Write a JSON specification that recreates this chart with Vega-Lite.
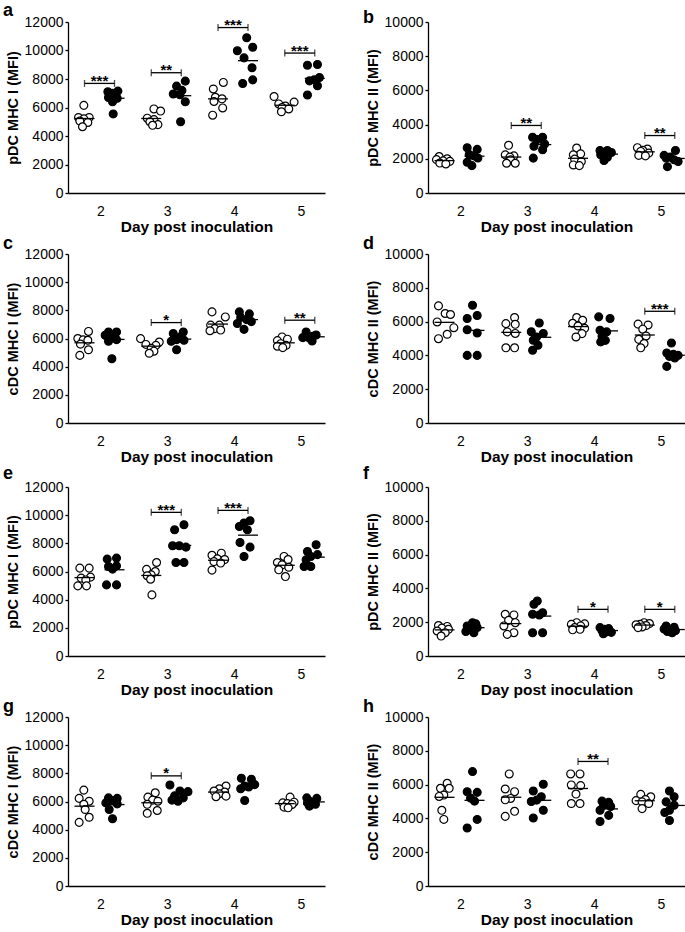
{
"$schema": "https://vega.github.io/schema/vega-lite/v6.json",
"background": "white",
"padding": {"left": 3, "top": 2, "right": 0, "bottom": 0},
"config": {
  "font": "Liberation Sans",
  "view": {"stroke": null},
  "axis": {"grid": false, "domainColor": "black", "domainWidth": 1.3, "tickColor": "black", "tickWidth": 1.3, "labelColor": "black", "titleColor": "black", "labelFontSize": 14, "titleFontWeight": "bold", "labelFont": "Liberation Sans", "titleFont": "Liberation Sans", "labelOverlap": false},
  "axisX": {"ticks": false, "labelPadding": 11, "titleFontSize": 15.5, "titlePadding": 1, "labelAngle": 0},
  "axisY": {"tickSize": 3, "labelPadding": 2, "titleFontSize": 14.5, "titlePadding": 4},
  "title": {"anchor": "start", "frame": "group", "fontSize": 18, "fontWeight": "bold", "color": "black", "dx": -65, "offset": -8, "font": "Liberation Sans"}
},
"datasets": {"all": [
{"p":"a","d":2,"g":"o","v":6150,"dx":-0.25},{"p":"a","d":2,"g":"o","v":5300,"dx":-0.33},{"p":"a","d":2,"g":"o","v":5300,"dx":-0.17},{"p":"a","d":2,"g":"o","v":5200,"dx":-0.25},{"p":"a","d":2,"g":"o","v":5050,"dx":-0.31},{"p":"a","d":2,"g":"o","v":4950,"dx":-0.19},{"p":"a","d":2,"g":"o","v":4650,"dx":-0.27},
{"p":"a","d":2,"g":"f","v":7100,"dx":0.11},{"p":"a","d":2,"g":"f","v":7150,"dx":0.26},{"p":"a","d":2,"g":"f","v":7000,"dx":0.18},{"p":"a","d":2,"g":"f","v":6700,"dx":0.12},{"p":"a","d":2,"g":"f","v":6650,"dx":0.25},{"p":"a","d":2,"g":"f","v":6400,"dx":0.18},{"p":"a","d":2,"g":"f","v":5550,"dx":0.19},
{"p":"a","d":3,"g":"o","v":5900,"dx":-0.2},{"p":"a","d":3,"g":"o","v":5750,"dx":-0.1},{"p":"a","d":3,"g":"o","v":5250,"dx":-0.3},{"p":"a","d":3,"g":"o","v":5150,"dx":-0.2},{"p":"a","d":3,"g":"o","v":5000,"dx":-0.26},{"p":"a","d":3,"g":"o","v":4800,"dx":-0.14},{"p":"a","d":3,"g":"o","v":4750,"dx":-0.22},
{"p":"a","d":3,"g":"f","v":7850,"dx":0.27},{"p":"a","d":3,"g":"f","v":7500,"dx":0.14},{"p":"a","d":3,"g":"f","v":7200,"dx":0.22},{"p":"a","d":3,"g":"f","v":6950,"dx":0.09},{"p":"a","d":3,"g":"f","v":6900,"dx":0.19},{"p":"a","d":3,"g":"f","v":6400,"dx":0.27},{"p":"a","d":3,"g":"f","v":5000,"dx":0.2},
{"p":"a","d":4,"g":"o","v":7760,"dx":-0.16},{"p":"a","d":4,"g":"o","v":7300,"dx":-0.31},{"p":"a","d":4,"g":"o","v":6720,"dx":-0.28},{"p":"a","d":4,"g":"o","v":6610,"dx":-0.18},{"p":"a","d":4,"g":"o","v":6420,"dx":-0.3},{"p":"a","d":4,"g":"o","v":5970,"dx":-0.17},{"p":"a","d":4,"g":"o","v":5460,"dx":-0.32},
{"p":"a","d":4,"g":"f","v":10900,"dx":0.19},{"p":"a","d":4,"g":"f","v":10230,"dx":0.28},{"p":"a","d":4,"g":"f","v":9980,"dx":0.05},{"p":"a","d":4,"g":"f","v":9480,"dx":0.15},{"p":"a","d":4,"g":"f","v":8790,"dx":0.27},{"p":"a","d":4,"g":"f","v":7940,"dx":0.28},{"p":"a","d":4,"g":"f","v":7690,"dx":0.13},
{"p":"a","d":5,"g":"o","v":6770,"dx":-0.4},{"p":"a","d":5,"g":"o","v":6380,"dx":-0.1},{"p":"a","d":5,"g":"o","v":6250,"dx":-0.33},{"p":"a","d":5,"g":"o","v":6100,"dx":-0.23},{"p":"a","d":5,"g":"o","v":6000,"dx":-0.28},{"p":"a","d":5,"g":"o","v":5900,"dx":-0.18},{"p":"a","d":5,"g":"o","v":5700,"dx":-0.29},
{"p":"a","d":5,"g":"f","v":9020,"dx":0.25},{"p":"a","d":5,"g":"f","v":8970,"dx":0.1},{"p":"a","d":5,"g":"f","v":8100,"dx":0.28},{"p":"a","d":5,"g":"f","v":7940,"dx":0.2},{"p":"a","d":5,"g":"f","v":7870,"dx":0.13},{"p":"a","d":5,"g":"f","v":7530,"dx":0.25},{"p":"a","d":5,"g":"f","v":6880,"dx":0.1},
{"p":"b","d":2,"g":"o","v":2130,"dx":-0.32},{"p":"b","d":2,"g":"o","v":2000,"dx":-0.2},{"p":"b","d":2,"g":"o","v":1950,"dx":-0.36},{"p":"b","d":2,"g":"o","v":1880,"dx":-0.26},{"p":"b","d":2,"g":"o","v":1850,"dx":-0.16},{"p":"b","d":2,"g":"o","v":1750,"dx":-0.31},{"p":"b","d":2,"g":"o","v":1700,"dx":-0.22},
{"p":"b","d":2,"g":"f","v":2650,"dx":0.1},{"p":"b","d":2,"g":"f","v":2550,"dx":0.25},{"p":"b","d":2,"g":"f","v":2250,"dx":0.13},{"p":"b","d":2,"g":"f","v":2170,"dx":0.2},{"p":"b","d":2,"g":"f","v":2050,"dx":0.26},{"p":"b","d":2,"g":"f","v":1800,"dx":0.1},{"p":"b","d":2,"g":"f","v":1600,"dx":0.17},
{"p":"b","d":3,"g":"o","v":2790,"dx":-0.28},{"p":"b","d":3,"g":"o","v":2230,"dx":-0.33},{"p":"b","d":3,"g":"o","v":2170,"dx":-0.2},{"p":"b","d":3,"g":"o","v":2100,"dx":-0.26},{"p":"b","d":3,"g":"o","v":1940,"dx":-0.25},{"p":"b","d":3,"g":"o","v":1740,"dx":-0.31},{"p":"b","d":3,"g":"o","v":1740,"dx":-0.18},
{"p":"b","d":3,"g":"f","v":3260,"dx":0.08},{"p":"b","d":3,"g":"f","v":3260,"dx":0.23},{"p":"b","d":3,"g":"f","v":3120,"dx":0.15},{"p":"b","d":3,"g":"f","v":2870,"dx":0.26},{"p":"b","d":3,"g":"f","v":2730,"dx":0.1},{"p":"b","d":3,"g":"f","v":2530,"dx":0.23},{"p":"b","d":3,"g":"f","v":2040,"dx":0.09},
{"p":"b","d":4,"g":"o","v":2630,"dx":-0.26},{"p":"b","d":4,"g":"o","v":2290,"dx":-0.2},{"p":"b","d":4,"g":"o","v":2230,"dx":-0.31},{"p":"b","d":4,"g":"o","v":1980,"dx":-0.29},{"p":"b","d":4,"g":"o","v":1840,"dx":-0.19},{"p":"b","d":4,"g":"o","v":1640,"dx":-0.31},{"p":"b","d":4,"g":"o","v":1600,"dx":-0.22},
{"p":"b","d":4,"g":"f","v":2490,"dx":0.09},{"p":"b","d":4,"g":"f","v":2490,"dx":0.2},{"p":"b","d":4,"g":"f","v":2370,"dx":0.26},{"p":"b","d":4,"g":"f","v":2330,"dx":0.15},{"p":"b","d":4,"g":"f","v":2230,"dx":0.1},{"p":"b","d":4,"g":"f","v":2090,"dx":0.2},{"p":"b","d":4,"g":"f","v":1900,"dx":0.15},
{"p":"b","d":5,"g":"o","v":2650,"dx":-0.35},{"p":"b","d":5,"g":"o","v":2570,"dx":-0.2},{"p":"b","d":5,"g":"o","v":2500,"dx":-0.27},{"p":"b","d":5,"g":"o","v":2430,"dx":-0.3},{"p":"b","d":5,"g":"o","v":2330,"dx":-0.18},{"p":"b","d":5,"g":"o","v":2200,"dx":-0.33},{"p":"b","d":5,"g":"o","v":2170,"dx":-0.23},
{"p":"b","d":5,"g":"f","v":2490,"dx":0.22},{"p":"b","d":5,"g":"f","v":2200,"dx":0.05},{"p":"b","d":5,"g":"f","v":2100,"dx":0.14},{"p":"b","d":5,"g":"f","v":2040,"dx":0.08},{"p":"b","d":5,"g":"f","v":1940,"dx":0.2},{"p":"b","d":5,"g":"f","v":1840,"dx":0.26},{"p":"b","d":5,"g":"f","v":1540,"dx":0.1},
{"p":"c","d":2,"g":"o","v":6500,"dx":-0.18},{"p":"c","d":2,"g":"o","v":6000,"dx":-0.34},{"p":"c","d":2,"g":"o","v":5900,"dx":-0.26},{"p":"c","d":2,"g":"o","v":5870,"dx":-0.19},{"p":"c","d":2,"g":"o","v":5600,"dx":-0.3},{"p":"c","d":2,"g":"o","v":5200,"dx":-0.18},{"p":"c","d":2,"g":"o","v":4800,"dx":-0.31},
{"p":"c","d":2,"g":"f","v":6460,"dx":0.12},{"p":"c","d":2,"g":"f","v":6460,"dx":0.24},{"p":"c","d":2,"g":"f","v":6230,"dx":0.07},{"p":"c","d":2,"g":"f","v":6110,"dx":0.17},{"p":"c","d":2,"g":"f","v":5920,"dx":0.24},{"p":"c","d":2,"g":"f","v":5800,"dx":0.12},{"p":"c","d":2,"g":"f","v":4560,"dx":0.17},
{"p":"c","d":3,"g":"o","v":5990,"dx":-0.4},{"p":"c","d":3,"g":"o","v":5750,"dx":-0.12},{"p":"c","d":3,"g":"o","v":5580,"dx":-0.32},{"p":"c","d":3,"g":"o","v":5510,"dx":-0.17},{"p":"c","d":3,"g":"o","v":5300,"dx":-0.24},{"p":"c","d":3,"g":"o","v":5100,"dx":-0.2},{"p":"c","d":3,"g":"o","v":4950,"dx":-0.27},
{"p":"c","d":3,"g":"f","v":6460,"dx":0.24},{"p":"c","d":3,"g":"f","v":6350,"dx":0.09},{"p":"c","d":3,"g":"f","v":6100,"dx":0.19},{"p":"c","d":3,"g":"f","v":5920,"dx":0.14},{"p":"c","d":3,"g":"f","v":5870,"dx":0.25},{"p":"c","d":3,"g":"f","v":5800,"dx":0.06},{"p":"c","d":3,"g":"f","v":5200,"dx":0.14},
{"p":"c","d":4,"g":"o","v":7890,"dx":-0.33},{"p":"c","d":4,"g":"o","v":7530,"dx":-0.13},{"p":"c","d":4,"g":"o","v":6950,"dx":-0.35},{"p":"c","d":4,"g":"o","v":6950,"dx":-0.22},{"p":"c","d":4,"g":"o","v":6700,"dx":-0.29},{"p":"c","d":4,"g":"o","v":6600,"dx":-0.2},{"p":"c","d":4,"g":"o","v":6550,"dx":-0.36},
{"p":"c","d":4,"g":"f","v":7890,"dx":0.08},{"p":"c","d":4,"g":"f","v":7750,"dx":0.23},{"p":"c","d":4,"g":"f","v":7500,"dx":0.1},{"p":"c","d":4,"g":"f","v":7340,"dx":0.19},{"p":"c","d":4,"g":"f","v":7200,"dx":0.26},{"p":"c","d":4,"g":"f","v":7060,"dx":0.05},{"p":"c","d":4,"g":"f","v":6650,"dx":0.15},
{"p":"c","d":5,"g":"o","v":6110,"dx":-0.28},{"p":"c","d":5,"g":"o","v":5950,"dx":-0.2},{"p":"c","d":5,"g":"o","v":5850,"dx":-0.35},{"p":"c","d":5,"g":"o","v":5630,"dx":-0.3},{"p":"c","d":5,"g":"o","v":5510,"dx":-0.22},{"p":"c","d":5,"g":"o","v":5450,"dx":-0.35},{"p":"c","d":5,"g":"o","v":5350,"dx":-0.27},
{"p":"c","d":5,"g":"f","v":6460,"dx":0.08},{"p":"c","d":5,"g":"f","v":6250,"dx":0.23},{"p":"c","d":5,"g":"f","v":6160,"dx":0.18},{"p":"c","d":5,"g":"f","v":6110,"dx":0.1},{"p":"c","d":5,"g":"f","v":6060,"dx":0.03},{"p":"c","d":5,"g":"f","v":5990,"dx":0.14},{"p":"c","d":5,"g":"f","v":5820,"dx":0.17},
{"p":"d","d":2,"g":"o","v":6930,"dx":-0.33},{"p":"d","d":2,"g":"o","v":6480,"dx":-0.23},{"p":"d","d":2,"g":"o","v":6420,"dx":-0.15},{"p":"d","d":2,"g":"o","v":5980,"dx":-0.35},{"p":"d","d":2,"g":"o","v":5640,"dx":-0.1},{"p":"d","d":2,"g":"o","v":5250,"dx":-0.2},{"p":"d","d":2,"g":"o","v":4990,"dx":-0.33},
{"p":"d","d":2,"g":"f","v":6970,"dx":0.18},{"p":"d","d":2,"g":"f","v":6360,"dx":0.25},{"p":"d","d":2,"g":"f","v":6180,"dx":0.1},{"p":"d","d":2,"g":"f","v":5520,"dx":0.1},{"p":"d","d":2,"g":"f","v":5330,"dx":0.25},{"p":"d","d":2,"g":"f","v":4000,"dx":0.1},{"p":"d","d":2,"g":"f","v":4000,"dx":0.25},
{"p":"d","d":3,"g":"o","v":6240,"dx":-0.19},{"p":"d","d":3,"g":"o","v":5880,"dx":-0.32},{"p":"d","d":3,"g":"o","v":5840,"dx":-0.18},{"p":"d","d":3,"g":"o","v":5390,"dx":-0.3},{"p":"d","d":3,"g":"o","v":5300,"dx":-0.18},{"p":"d","d":3,"g":"o","v":4450,"dx":-0.32},{"p":"d","d":3,"g":"o","v":4450,"dx":-0.19},
{"p":"d","d":3,"g":"f","v":5920,"dx":0.18},{"p":"d","d":3,"g":"f","v":5400,"dx":0.06},{"p":"d","d":3,"g":"f","v":5300,"dx":0.24},{"p":"d","d":3,"g":"f","v":5090,"dx":0.14},{"p":"d","d":3,"g":"f","v":4900,"dx":0.09},{"p":"d","d":3,"g":"f","v":4600,"dx":0.16},{"p":"d","d":3,"g":"f","v":4300,"dx":0.08},
{"p":"d","d":4,"g":"o","v":6240,"dx":-0.26},{"p":"d","d":4,"g":"o","v":6080,"dx":-0.17},{"p":"d","d":4,"g":"o","v":5900,"dx":-0.32},{"p":"d","d":4,"g":"o","v":5740,"dx":-0.24},{"p":"d","d":4,"g":"o","v":5600,"dx":-0.14},{"p":"d","d":4,"g":"o","v":5290,"dx":-0.18},{"p":"d","d":4,"g":"o","v":5090,"dx":-0.27},
{"p":"d","d":4,"g":"f","v":6280,"dx":0.07},{"p":"d","d":4,"g":"f","v":6180,"dx":0.24},{"p":"d","d":4,"g":"f","v":5490,"dx":0.09},{"p":"d","d":4,"g":"f","v":5390,"dx":0.19},{"p":"d","d":4,"g":"f","v":5130,"dx":0.12},{"p":"d","d":4,"g":"f","v":4890,"dx":0.17},{"p":"d","d":4,"g":"f","v":4800,"dx":0.1},
{"p":"d","d":5,"g":"o","v":5850,"dx":-0.34},{"p":"d","d":5,"g":"o","v":5800,"dx":-0.19},{"p":"d","d":5,"g":"o","v":5550,"dx":-0.27},{"p":"d","d":5,"g":"o","v":5150,"dx":-0.22},{"p":"d","d":5,"g":"o","v":4950,"dx":-0.33},{"p":"d","d":5,"g":"o","v":4700,"dx":-0.25},{"p":"d","d":5,"g":"o","v":4450,"dx":-0.3},
{"p":"d","d":5,"g":"f","v":4730,"dx":0.16},{"p":"d","d":5,"g":"f","v":4140,"dx":0.09},{"p":"d","d":5,"g":"f","v":4060,"dx":0.19},{"p":"d","d":5,"g":"f","v":4000,"dx":0.26},{"p":"d","d":5,"g":"f","v":3940,"dx":0.13},{"p":"d","d":5,"g":"f","v":3850,"dx":0.21},{"p":"d","d":5,"g":"f","v":3350,"dx":0.09},
{"p":"e","d":2,"g":"o","v":6240,"dx":-0.31},{"p":"e","d":2,"g":"o","v":6240,"dx":-0.17},{"p":"e","d":2,"g":"o","v":5600,"dx":-0.15},{"p":"e","d":2,"g":"o","v":5530,"dx":-0.29},{"p":"e","d":2,"g":"o","v":5400,"dx":-0.22},{"p":"e","d":2,"g":"o","v":4980,"dx":-0.34},{"p":"e","d":2,"g":"o","v":4980,"dx":-0.21},
{"p":"e","d":2,"g":"f","v":6950,"dx":0.24},{"p":"e","d":2,"g":"f","v":6880,"dx":0.1},{"p":"e","d":2,"g":"f","v":6400,"dx":0.24},{"p":"e","d":2,"g":"f","v":6360,"dx":0.12},{"p":"e","d":2,"g":"f","v":6170,"dx":0.18},{"p":"e","d":2,"g":"f","v":5050,"dx":0.09},{"p":"e","d":2,"g":"f","v":5050,"dx":0.24},
{"p":"e","d":3,"g":"o","v":6640,"dx":-0.16},{"p":"e","d":3,"g":"o","v":6150,"dx":-0.31},{"p":"e","d":3,"g":"o","v":6000,"dx":-0.18},{"p":"e","d":3,"g":"o","v":5760,"dx":-0.24},{"p":"e","d":3,"g":"o","v":5700,"dx":-0.3},{"p":"e","d":3,"g":"o","v":5450,"dx":-0.25},{"p":"e","d":3,"g":"o","v":4340,"dx":-0.23},
{"p":"e","d":3,"g":"f","v":9320,"dx":0.25},{"p":"e","d":3,"g":"f","v":8960,"dx":0.11},{"p":"e","d":3,"g":"f","v":7830,"dx":0.08},{"p":"e","d":3,"g":"f","v":7830,"dx":0.18},{"p":"e","d":3,"g":"f","v":7730,"dx":0.28},{"p":"e","d":3,"g":"f","v":6640,"dx":0.13},{"p":"e","d":3,"g":"f","v":6640,"dx":0.25},
{"p":"e","d":4,"g":"o","v":7300,"dx":-0.19},{"p":"e","d":4,"g":"o","v":7150,"dx":-0.33},{"p":"e","d":4,"g":"o","v":6900,"dx":-0.25},{"p":"e","d":4,"g":"o","v":6850,"dx":-0.14},{"p":"e","d":4,"g":"o","v":6700,"dx":-0.3},{"p":"e","d":4,"g":"o","v":6600,"dx":-0.2},{"p":"e","d":4,"g":"o","v":6100,"dx":-0.33},
{"p":"e","d":4,"g":"f","v":9600,"dx":0.24},{"p":"e","d":4,"g":"f","v":9440,"dx":0.15},{"p":"e","d":4,"g":"f","v":9200,"dx":0.08},{"p":"e","d":4,"g":"f","v":8960,"dx":0.2},{"p":"e","d":4,"g":"f","v":8060,"dx":0.09},{"p":"e","d":4,"g":"f","v":7730,"dx":0.24},{"p":"e","d":4,"g":"f","v":7070,"dx":0.15},
{"p":"e","d":5,"g":"o","v":7070,"dx":-0.25},{"p":"e","d":5,"g":"o","v":6850,"dx":-0.19},{"p":"e","d":5,"g":"o","v":6640,"dx":-0.35},{"p":"e","d":5,"g":"o","v":6470,"dx":-0.28},{"p":"e","d":5,"g":"o","v":6300,"dx":-0.18},{"p":"e","d":5,"g":"o","v":6120,"dx":-0.33},{"p":"e","d":5,"g":"o","v":5640,"dx":-0.23},
{"p":"e","d":5,"g":"f","v":7900,"dx":0.23},{"p":"e","d":5,"g":"f","v":7420,"dx":0.1},{"p":"e","d":5,"g":"f","v":7200,"dx":0.25},{"p":"e","d":5,"g":"f","v":7070,"dx":0.15},{"p":"e","d":5,"g":"f","v":6830,"dx":0.08},{"p":"e","d":5,"g":"f","v":6360,"dx":0.05},{"p":"e","d":5,"g":"f","v":6360,"dx":0.15},
{"p":"f","d":2,"g":"o","v":1800,"dx":-0.33},{"p":"f","d":2,"g":"o","v":1750,"dx":-0.2},{"p":"f","d":2,"g":"o","v":1650,"dx":-0.28},{"p":"f","d":2,"g":"o","v":1580,"dx":-0.18},{"p":"f","d":2,"g":"o","v":1480,"dx":-0.35},{"p":"f","d":2,"g":"o","v":1380,"dx":-0.23},{"p":"f","d":2,"g":"o","v":1180,"dx":-0.29},
{"p":"f","d":2,"g":"f","v":1970,"dx":0.18},{"p":"f","d":2,"g":"f","v":1900,"dx":0.23},{"p":"f","d":2,"g":"f","v":1780,"dx":0.1},{"p":"f","d":2,"g":"f","v":1680,"dx":0.25},{"p":"f","d":2,"g":"f","v":1580,"dx":0.15},{"p":"f","d":2,"g":"f","v":1450,"dx":0.08},{"p":"f","d":2,"g":"f","v":1380,"dx":0.2},
{"p":"f","d":3,"g":"o","v":2470,"dx":-0.33},{"p":"f","d":3,"g":"o","v":2430,"dx":-0.2},{"p":"f","d":3,"g":"o","v":2110,"dx":-0.28},{"p":"f","d":3,"g":"o","v":1970,"dx":-0.18},{"p":"f","d":3,"g":"o","v":1780,"dx":-0.35},{"p":"f","d":3,"g":"o","v":1380,"dx":-0.2},{"p":"f","d":3,"g":"o","v":1280,"dx":-0.3},
{"p":"f","d":3,"g":"f","v":3250,"dx":0.15},{"p":"f","d":3,"g":"f","v":3060,"dx":0.1},{"p":"f","d":3,"g":"f","v":2560,"dx":0.23},{"p":"f","d":3,"g":"f","v":2470,"dx":0.08},{"p":"f","d":3,"g":"f","v":2430,"dx":0.18},{"p":"f","d":3,"g":"f","v":1380,"dx":0.08},{"p":"f","d":3,"g":"f","v":1380,"dx":0.23},
{"p":"f","d":4,"g":"o","v":1970,"dx":-0.26},{"p":"f","d":4,"g":"o","v":1900,"dx":-0.14},{"p":"f","d":4,"g":"o","v":1870,"dx":-0.34},{"p":"f","d":4,"g":"o","v":1780,"dx":-0.2},{"p":"f","d":4,"g":"o","v":1680,"dx":-0.29},{"p":"f","d":4,"g":"o","v":1580,"dx":-0.21},{"p":"f","d":4,"g":"o","v":1550,"dx":-0.32},
{"p":"f","d":4,"g":"f","v":1680,"dx":0.09},{"p":"f","d":4,"g":"f","v":1620,"dx":0.22},{"p":"f","d":4,"g":"f","v":1580,"dx":0.16},{"p":"f","d":4,"g":"f","v":1500,"dx":0.12},{"p":"f","d":4,"g":"f","v":1440,"dx":0.2},{"p":"f","d":4,"g":"f","v":1400,"dx":0.26},{"p":"f","d":4,"g":"f","v":1320,"dx":0.14},
{"p":"f","d":5,"g":"o","v":1970,"dx":-0.25},{"p":"f","d":5,"g":"o","v":1920,"dx":-0.17},{"p":"f","d":5,"g":"o","v":1870,"dx":-0.31},{"p":"f","d":5,"g":"o","v":1850,"dx":-0.37},{"p":"f","d":5,"g":"o","v":1800,"dx":-0.22},{"p":"f","d":5,"g":"o","v":1720,"dx":-0.28},{"p":"f","d":5,"g":"o","v":1680,"dx":-0.34},
{"p":"f","d":5,"g":"f","v":1780,"dx":0.08},{"p":"f","d":5,"g":"f","v":1700,"dx":0.2},{"p":"f","d":5,"g":"f","v":1600,"dx":0.05},{"p":"f","d":5,"g":"f","v":1550,"dx":0.13},{"p":"f","d":5,"g":"f","v":1500,"dx":0.22},{"p":"f","d":5,"g":"f","v":1450,"dx":0.1},{"p":"f","d":5,"g":"f","v":1380,"dx":0.17},
{"p":"g","d":2,"g":"o","v":6810,"dx":-0.25},{"p":"g","d":2,"g":"o","v":6220,"dx":-0.32},{"p":"g","d":2,"g":"o","v":6020,"dx":-0.17},{"p":"g","d":2,"g":"o","v":5800,"dx":-0.25},{"p":"g","d":2,"g":"o","v":5430,"dx":-0.23},{"p":"g","d":2,"g":"o","v":4880,"dx":-0.17},{"p":"g","d":2,"g":"o","v":4520,"dx":-0.32},
{"p":"g","d":2,"g":"f","v":6260,"dx":0.12},{"p":"g","d":2,"g":"f","v":6220,"dx":0.25},{"p":"g","d":2,"g":"f","v":6050,"dx":0.18},{"p":"g","d":2,"g":"f","v":5900,"dx":0.08},{"p":"g","d":2,"g":"f","v":5830,"dx":0.25},{"p":"g","d":2,"g":"f","v":5430,"dx":0.13},{"p":"g","d":2,"g":"f","v":4780,"dx":0.18},
{"p":"g","d":3,"g":"o","v":6620,"dx":-0.18},{"p":"g","d":3,"g":"o","v":6310,"dx":-0.29},{"p":"g","d":3,"g":"o","v":6100,"dx":-0.22},{"p":"g","d":3,"g":"o","v":6020,"dx":-0.14},{"p":"g","d":3,"g":"o","v":5800,"dx":-0.3},{"p":"g","d":3,"g":"o","v":5360,"dx":-0.15},{"p":"g","d":3,"g":"o","v":5160,"dx":-0.3},
{"p":"g","d":3,"g":"f","v":7170,"dx":0.04},{"p":"g","d":3,"g":"f","v":6740,"dx":0.19},{"p":"g","d":3,"g":"f","v":6700,"dx":0.31},{"p":"g","d":3,"g":"f","v":6400,"dx":0.11},{"p":"g","d":3,"g":"f","v":6260,"dx":0.24},{"p":"g","d":3,"g":"f","v":6100,"dx":0.07},{"p":"g","d":3,"g":"f","v":6020,"dx":0.16},
{"p":"g","d":4,"g":"o","v":7100,"dx":-0.12},{"p":"g","d":4,"g":"o","v":6900,"dx":-0.22},{"p":"g","d":4,"g":"o","v":6740,"dx":-0.3},{"p":"g","d":4,"g":"o","v":6670,"dx":-0.14},{"p":"g","d":4,"g":"o","v":6550,"dx":-0.22},{"p":"g","d":4,"g":"o","v":6380,"dx":-0.12},{"p":"g","d":4,"g":"o","v":6340,"dx":-0.27},
{"p":"g","d":4,"g":"f","v":7650,"dx":0.11},{"p":"g","d":4,"g":"f","v":7580,"dx":0.26},{"p":"g","d":4,"g":"f","v":7200,"dx":0.31},{"p":"g","d":4,"g":"f","v":7100,"dx":0.16},{"p":"g","d":4,"g":"f","v":7030,"dx":0.22},{"p":"g","d":4,"g":"f","v":6900,"dx":0.1},{"p":"g","d":4,"g":"f","v":6070,"dx":0.16},
{"p":"g","d":5,"g":"o","v":6310,"dx":-0.16},{"p":"g","d":5,"g":"o","v":5950,"dx":-0.1},{"p":"g","d":5,"g":"o","v":5900,"dx":-0.27},{"p":"g","d":5,"g":"o","v":5850,"dx":-0.2},{"p":"g","d":5,"g":"o","v":5790,"dx":-0.13},{"p":"g","d":5,"g":"o","v":5600,"dx":-0.25},{"p":"g","d":5,"g":"o","v":5550,"dx":-0.19},
{"p":"g","d":5,"g":"f","v":6260,"dx":0.09},{"p":"g","d":5,"g":"f","v":6220,"dx":0.24},{"p":"g","d":5,"g":"f","v":6000,"dx":0.14},{"p":"g","d":5,"g":"f","v":5950,"dx":0.2},{"p":"g","d":5,"g":"f","v":5900,"dx":0.1},{"p":"g","d":5,"g":"f","v":5800,"dx":0.22},{"p":"g","d":5,"g":"f","v":5670,"dx":0.13},
{"p":"h","d":2,"g":"o","v":6080,"dx":-0.2},{"p":"h","d":2,"g":"o","v":5780,"dx":-0.3},{"p":"h","d":2,"g":"o","v":5780,"dx":-0.17},{"p":"h","d":2,"g":"o","v":5380,"dx":-0.25},{"p":"h","d":2,"g":"o","v":5300,"dx":-0.32},{"p":"h","d":2,"g":"o","v":4480,"dx":-0.28},{"p":"h","d":2,"g":"o","v":3940,"dx":-0.25},
{"p":"h","d":2,"g":"f","v":6770,"dx":0.18},{"p":"h","d":2,"g":"f","v":5580,"dx":0.1},{"p":"h","d":2,"g":"f","v":5540,"dx":0.25},{"p":"h","d":2,"g":"f","v":5200,"dx":0.15},{"p":"h","d":2,"g":"f","v":5020,"dx":0.21},{"p":"h","d":2,"g":"f","v":3940,"dx":0.25},{"p":"h","d":2,"g":"f","v":3430,"dx":0.1},
{"p":"h","d":3,"g":"o","v":6630,"dx":-0.27},{"p":"h","d":3,"g":"o","v":5740,"dx":-0.33},{"p":"h","d":3,"g":"o","v":5580,"dx":-0.19},{"p":"h","d":3,"g":"o","v":5180,"dx":-0.25},{"p":"h","d":3,"g":"o","v":5100,"dx":-0.33},{"p":"h","d":3,"g":"o","v":4420,"dx":-0.19},{"p":"h","d":3,"g":"o","v":4120,"dx":-0.33},
{"p":"h","d":3,"g":"f","v":6020,"dx":0.24},{"p":"h","d":3,"g":"f","v":5620,"dx":0.09},{"p":"h","d":3,"g":"f","v":5280,"dx":0.21},{"p":"h","d":3,"g":"f","v":5080,"dx":0.14},{"p":"h","d":3,"g":"f","v":5000,"dx":0.06},{"p":"h","d":3,"g":"f","v":4480,"dx":0.24},{"p":"h","d":3,"g":"f","v":4020,"dx":0.09},
{"p":"h","d":4,"g":"o","v":6630,"dx":-0.35},{"p":"h","d":4,"g":"o","v":6630,"dx":-0.21},{"p":"h","d":4,"g":"o","v":5980,"dx":-0.34},{"p":"h","d":4,"g":"o","v":5940,"dx":-0.2},{"p":"h","d":4,"g":"o","v":5440,"dx":-0.27},{"p":"h","d":4,"g":"o","v":4880,"dx":-0.34},{"p":"h","d":4,"g":"o","v":4880,"dx":-0.21},
{"p":"h","d":4,"g":"f","v":5020,"dx":0.12},{"p":"h","d":4,"g":"f","v":4950,"dx":0.22},{"p":"h","d":4,"g":"f","v":4780,"dx":0.14},{"p":"h","d":4,"g":"f","v":4700,"dx":0.25},{"p":"h","d":4,"g":"f","v":4480,"dx":0.09},{"p":"h","d":4,"g":"f","v":4180,"dx":0.22},{"p":"h","d":4,"g":"f","v":3820,"dx":0.09},
{"p":"h","d":5,"g":"o","v":5420,"dx":-0.3},{"p":"h","d":5,"g":"o","v":5280,"dx":-0.15},{"p":"h","d":5,"g":"o","v":5120,"dx":-0.23},{"p":"h","d":5,"g":"o","v":5050,"dx":-0.37},{"p":"h","d":5,"g":"o","v":4980,"dx":-0.28},{"p":"h","d":5,"g":"o","v":4880,"dx":-0.18},{"p":"h","d":5,"g":"o","v":4580,"dx":-0.28},
{"p":"h","d":5,"g":"f","v":5620,"dx":0.13},{"p":"h","d":5,"g":"f","v":5280,"dx":0.2},{"p":"h","d":5,"g":"f","v":4980,"dx":0.08},{"p":"h","d":5,"g":"f","v":4780,"dx":0.2},{"p":"h","d":5,"g":"f","v":4480,"dx":0.13},{"p":"h","d":5,"g":"f","v":4350,"dx":0.06},{"p":"h","d":5,"g":"f","v":3880,"dx":0.13},
{"p":"a","d":2,"v":7690,"s":"***"},{"p":"a","d":3,"v":8440,"s":"**"},{"p":"a","d":4,"v":11610,"s":"***"},{"p":"a","d":5,"v":9820,"s":"***"},
{"p":"b","d":3,"v":3950,"s":"**"},{"p":"b","d":5,"v":3360,"s":"**"},
{"p":"c","d":3,"v":7130,"s":"*"},{"p":"c","d":5,"v":7300,"s":"**"},
{"p":"d","d":5,"v":6610,"s":"***"},
{"p":"e","d":3,"v":10200,"s":"***"},{"p":"e","d":4,"v":10340,"s":"***"},
{"p":"f","d":4,"v":2760,"s":"*"},{"p":"f","d":5,"v":2760,"s":"*"},
{"p":"g","d":3,"v":7820,"s":"*"},
{"p":"h","d":4,"v":7370,"s":"**"}
]},
"data": {"name": "all"},
"columns": 2,
"spacing": {"row": 0, "column": 37},
"concat": [
{"width": 257, "height": 171, "title": {"text": "a", "offset": -5}, "transform": [{"filter": "datum.p==='a'"}], "layer": [
 {"transform": [{"filter": "isValid(datum.g)"}], "mark": {"type": "point", "shape": "circle", "filled": true, "size": 62, "stroke": "black", "strokeWidth": 1.2, "opacity": 1},
  "encoding": {"x": {"field": "d", "type": "ordinal", "scale": {"type": "point", "domain": [2, 3, 4, 5], "padding": 0.425, "align": 0.573, "round": false}, "axis": {"title": "Day post inoculation", "labelOverlap": false}},
   "xOffset": {"field": "dx", "type": "quantitative", "scale": {"domain": [-1, 1], "range": [-66.75, 66.75]}},
   "y": {"field": "v", "type": "quantitative", "scale": {"domain": [0, 12000]}, "axis": {"values": [0, 2000, 4000, 6000, 8000, 10000, 12000], "tickCount": 7, "format": "d", "labelOverlap": false, "title": "pDC MHC I (MFI)"}},
   "fill": {"field": "g", "type": "nominal", "scale": {"domain": ["o", "f"], "range": ["white", "black"]}, "legend": null}}},
 {"transform": [{"filter": "datum.g==='o'"}], "mark": {"type": "tick", "orient": "horizontal", "size": 20, "thickness": 1.3, "color": "black", "xOffset": -16}, "encoding": {"x": {"field": "d", "type": "ordinal"}, "y": {"aggregate": "mean", "field": "v", "type": "quantitative"}}},
 {"transform": [{"filter": "datum.g==='f'"}], "mark": {"type": "tick", "orient": "horizontal", "size": 20, "thickness": 1.3, "color": "black", "xOffset": 14}, "encoding": {"x": {"field": "d", "type": "ordinal"}, "y": {"aggregate": "mean", "field": "v", "type": "quantitative"}}},
 {"transform": [{"filter": "isValid(datum.s)"}], "mark": {"type": "rule", "color": "black", "strokeWidth": 1.3, "xOffset": -16, "x2Offset": 14}, "encoding": {"x": {"field": "d", "type": "ordinal"}, "x2": {"field": "d"}, "y": {"field": "v", "type": "quantitative"}}},
 {"transform": [{"filter": "isValid(datum.s)"}], "mark": {"type": "tick", "orient": "vertical", "size": 7, "thickness": 1.3, "color": "black", "xOffset": -16}, "encoding": {"x": {"field": "d", "type": "ordinal"}, "y": {"field": "v", "type": "quantitative"}}},
 {"transform": [{"filter": "isValid(datum.s)"}], "mark": {"type": "tick", "orient": "vertical", "size": 7, "thickness": 1.3, "color": "black", "xOffset": 14}, "encoding": {"x": {"field": "d", "type": "ordinal"}, "y": {"field": "v", "type": "quantitative"}}},
 {"transform": [{"filter": "isValid(datum.s)"}], "mark": {"type": "text", "fontSize": 15, "fontWeight": "bold", "dy": 2.5, "baseline": "alphabetic", "xOffset": -1, "color": "black"}, "encoding": {"x": {"field": "d", "type": "ordinal"}, "y": {"field": "v", "type": "quantitative"}, "text": {"field": "s"}}}
]},
{"width": 257, "height": 171, "title": {"text": "b", "offset": -12}, "transform": [{"filter": "datum.p==='b'"}], "layer": [
 {"transform": [{"filter": "isValid(datum.g)"}], "mark": {"type": "point", "shape": "circle", "filled": true, "size": 62, "stroke": "black", "strokeWidth": 1.2, "opacity": 1},
  "encoding": {"x": {"field": "d", "type": "ordinal", "scale": {"type": "point", "domain": [2, 3, 4, 5], "padding": 0.425, "align": 0.573, "round": false}, "axis": {"title": "Day post inoculation", "labelOverlap": false}},
   "xOffset": {"field": "dx", "type": "quantitative", "scale": {"domain": [-1, 1], "range": [-66.75, 66.75]}},
   "y": {"field": "v", "type": "quantitative", "scale": {"domain": [0, 10000]}, "axis": {"values": [0, 2000, 4000, 6000, 8000, 10000], "tickCount": 6, "format": "d", "labelOverlap": false, "title": "pDC MHC II (MFI)"}},
   "fill": {"field": "g", "type": "nominal", "scale": {"domain": ["o", "f"], "range": ["white", "black"]}, "legend": null}}},
 {"transform": [{"filter": "datum.g==='o'"}], "mark": {"type": "tick", "orient": "horizontal", "size": 20, "thickness": 1.3, "color": "black", "xOffset": -16}, "encoding": {"x": {"field": "d", "type": "ordinal"}, "y": {"aggregate": "mean", "field": "v", "type": "quantitative"}}},
 {"transform": [{"filter": "datum.g==='f'"}], "mark": {"type": "tick", "orient": "horizontal", "size": 20, "thickness": 1.3, "color": "black", "xOffset": 14}, "encoding": {"x": {"field": "d", "type": "ordinal"}, "y": {"aggregate": "mean", "field": "v", "type": "quantitative"}}},
 {"transform": [{"filter": "isValid(datum.s)"}], "mark": {"type": "rule", "color": "black", "strokeWidth": 1.3, "xOffset": -16, "x2Offset": 14}, "encoding": {"x": {"field": "d", "type": "ordinal"}, "x2": {"field": "d"}, "y": {"field": "v", "type": "quantitative"}}},
 {"transform": [{"filter": "isValid(datum.s)"}], "mark": {"type": "tick", "orient": "vertical", "size": 7, "thickness": 1.3, "color": "black", "xOffset": -16}, "encoding": {"x": {"field": "d", "type": "ordinal"}, "y": {"field": "v", "type": "quantitative"}}},
 {"transform": [{"filter": "isValid(datum.s)"}], "mark": {"type": "tick", "orient": "vertical", "size": 7, "thickness": 1.3, "color": "black", "xOffset": 14}, "encoding": {"x": {"field": "d", "type": "ordinal"}, "y": {"field": "v", "type": "quantitative"}}},
 {"transform": [{"filter": "isValid(datum.s)"}], "mark": {"type": "text", "fontSize": 15, "fontWeight": "bold", "dy": 2.5, "baseline": "alphabetic", "xOffset": -1, "color": "black"}, "encoding": {"x": {"field": "d", "type": "ordinal"}, "y": {"field": "v", "type": "quantitative"}, "text": {"field": "s"}}}
]},
{"width": 257, "height": 169, "title": {"text": "c", "offset": -6}, "transform": [{"filter": "datum.p==='c'"}], "layer": [
 {"transform": [{"filter": "isValid(datum.g)"}], "mark": {"type": "point", "shape": "circle", "filled": true, "size": 62, "stroke": "black", "strokeWidth": 1.2, "opacity": 1},
  "encoding": {"x": {"field": "d", "type": "ordinal", "scale": {"type": "point", "domain": [2, 3, 4, 5], "padding": 0.425, "align": 0.573, "round": false}, "axis": {"title": "Day post inoculation", "labelOverlap": false}},
   "xOffset": {"field": "dx", "type": "quantitative", "scale": {"domain": [-1, 1], "range": [-66.75, 66.75]}},
   "y": {"field": "v", "type": "quantitative", "scale": {"domain": [0, 12000]}, "axis": {"values": [0, 2000, 4000, 6000, 8000, 10000, 12000], "tickCount": 7, "format": "d", "labelOverlap": false, "title": "cDC MHC I (MFI)"}},
   "fill": {"field": "g", "type": "nominal", "scale": {"domain": ["o", "f"], "range": ["white", "black"]}, "legend": null}}},
 {"transform": [{"filter": "datum.g==='o'"}], "mark": {"type": "tick", "orient": "horizontal", "size": 20, "thickness": 1.3, "color": "black", "xOffset": -16}, "encoding": {"x": {"field": "d", "type": "ordinal"}, "y": {"aggregate": "mean", "field": "v", "type": "quantitative"}}},
 {"transform": [{"filter": "datum.g==='f'"}], "mark": {"type": "tick", "orient": "horizontal", "size": 20, "thickness": 1.3, "color": "black", "xOffset": 14}, "encoding": {"x": {"field": "d", "type": "ordinal"}, "y": {"aggregate": "mean", "field": "v", "type": "quantitative"}}},
 {"transform": [{"filter": "isValid(datum.s)"}], "mark": {"type": "rule", "color": "black", "strokeWidth": 1.3, "xOffset": -16, "x2Offset": 14}, "encoding": {"x": {"field": "d", "type": "ordinal"}, "x2": {"field": "d"}, "y": {"field": "v", "type": "quantitative"}}},
 {"transform": [{"filter": "isValid(datum.s)"}], "mark": {"type": "tick", "orient": "vertical", "size": 7, "thickness": 1.3, "color": "black", "xOffset": -16}, "encoding": {"x": {"field": "d", "type": "ordinal"}, "y": {"field": "v", "type": "quantitative"}}},
 {"transform": [{"filter": "isValid(datum.s)"}], "mark": {"type": "tick", "orient": "vertical", "size": 7, "thickness": 1.3, "color": "black", "xOffset": 14}, "encoding": {"x": {"field": "d", "type": "ordinal"}, "y": {"field": "v", "type": "quantitative"}}},
 {"transform": [{"filter": "isValid(datum.s)"}], "mark": {"type": "text", "fontSize": 15, "fontWeight": "bold", "dy": 2.5, "baseline": "alphabetic", "xOffset": -1, "color": "black"}, "encoding": {"x": {"field": "d", "type": "ordinal"}, "y": {"field": "v", "type": "quantitative"}, "text": {"field": "s"}}}
]},
{"width": 257, "height": 169, "title": {"text": "d", "offset": -6}, "transform": [{"filter": "datum.p==='d'"}], "layer": [
 {"transform": [{"filter": "isValid(datum.g)"}], "mark": {"type": "point", "shape": "circle", "filled": true, "size": 62, "stroke": "black", "strokeWidth": 1.2, "opacity": 1},
  "encoding": {"x": {"field": "d", "type": "ordinal", "scale": {"type": "point", "domain": [2, 3, 4, 5], "padding": 0.425, "align": 0.573, "round": false}, "axis": {"title": "Day post inoculation", "labelOverlap": false}},
   "xOffset": {"field": "dx", "type": "quantitative", "scale": {"domain": [-1, 1], "range": [-66.75, 66.75]}},
   "y": {"field": "v", "type": "quantitative", "scale": {"domain": [0, 10000]}, "axis": {"values": [0, 2000, 4000, 6000, 8000, 10000], "tickCount": 6, "format": "d", "labelOverlap": false, "title": "cDC MHC II (MFI)"}},
   "fill": {"field": "g", "type": "nominal", "scale": {"domain": ["o", "f"], "range": ["white", "black"]}, "legend": null}}},
 {"transform": [{"filter": "datum.g==='o'"}], "mark": {"type": "tick", "orient": "horizontal", "size": 20, "thickness": 1.3, "color": "black", "xOffset": -16}, "encoding": {"x": {"field": "d", "type": "ordinal"}, "y": {"aggregate": "mean", "field": "v", "type": "quantitative"}}},
 {"transform": [{"filter": "datum.g==='f'"}], "mark": {"type": "tick", "orient": "horizontal", "size": 20, "thickness": 1.3, "color": "black", "xOffset": 14}, "encoding": {"x": {"field": "d", "type": "ordinal"}, "y": {"aggregate": "mean", "field": "v", "type": "quantitative"}}},
 {"transform": [{"filter": "isValid(datum.s)"}], "mark": {"type": "rule", "color": "black", "strokeWidth": 1.3, "xOffset": -16, "x2Offset": 14}, "encoding": {"x": {"field": "d", "type": "ordinal"}, "x2": {"field": "d"}, "y": {"field": "v", "type": "quantitative"}}},
 {"transform": [{"filter": "isValid(datum.s)"}], "mark": {"type": "tick", "orient": "vertical", "size": 7, "thickness": 1.3, "color": "black", "xOffset": -16}, "encoding": {"x": {"field": "d", "type": "ordinal"}, "y": {"field": "v", "type": "quantitative"}}},
 {"transform": [{"filter": "isValid(datum.s)"}], "mark": {"type": "tick", "orient": "vertical", "size": 7, "thickness": 1.3, "color": "black", "xOffset": 14}, "encoding": {"x": {"field": "d", "type": "ordinal"}, "y": {"field": "v", "type": "quantitative"}}},
 {"transform": [{"filter": "isValid(datum.s)"}], "mark": {"type": "text", "fontSize": 15, "fontWeight": "bold", "dy": 2.5, "baseline": "alphabetic", "xOffset": -1, "color": "black"}, "encoding": {"x": {"field": "d", "type": "ordinal"}, "y": {"field": "v", "type": "quantitative"}, "text": {"field": "s"}}}
]},
{"width": 257, "height": 169, "title": {"text": "e", "offset": -3}, "transform": [{"filter": "datum.p==='e'"}], "layer": [
 {"transform": [{"filter": "isValid(datum.g)"}], "mark": {"type": "point", "shape": "circle", "filled": true, "size": 62, "stroke": "black", "strokeWidth": 1.2, "opacity": 1},
  "encoding": {"x": {"field": "d", "type": "ordinal", "scale": {"type": "point", "domain": [2, 3, 4, 5], "padding": 0.425, "align": 0.573, "round": false}, "axis": {"title": "Day post inoculation", "labelOverlap": false}},
   "xOffset": {"field": "dx", "type": "quantitative", "scale": {"domain": [-1, 1], "range": [-66.75, 66.75]}},
   "y": {"field": "v", "type": "quantitative", "scale": {"domain": [0, 12000]}, "axis": {"values": [0, 2000, 4000, 6000, 8000, 10000, 12000], "tickCount": 7, "format": "d", "labelOverlap": false, "title": "pDC MHC I (MFI)"}},
   "fill": {"field": "g", "type": "nominal", "scale": {"domain": ["o", "f"], "range": ["white", "black"]}, "legend": null}}},
 {"transform": [{"filter": "datum.g==='o'"}], "mark": {"type": "tick", "orient": "horizontal", "size": 20, "thickness": 1.3, "color": "black", "xOffset": -16}, "encoding": {"x": {"field": "d", "type": "ordinal"}, "y": {"aggregate": "mean", "field": "v", "type": "quantitative"}}},
 {"transform": [{"filter": "datum.g==='f'"}], "mark": {"type": "tick", "orient": "horizontal", "size": 20, "thickness": 1.3, "color": "black", "xOffset": 14}, "encoding": {"x": {"field": "d", "type": "ordinal"}, "y": {"aggregate": "mean", "field": "v", "type": "quantitative"}}},
 {"transform": [{"filter": "isValid(datum.s)"}], "mark": {"type": "rule", "color": "black", "strokeWidth": 1.3, "xOffset": -16, "x2Offset": 14}, "encoding": {"x": {"field": "d", "type": "ordinal"}, "x2": {"field": "d"}, "y": {"field": "v", "type": "quantitative"}}},
 {"transform": [{"filter": "isValid(datum.s)"}], "mark": {"type": "tick", "orient": "vertical", "size": 7, "thickness": 1.3, "color": "black", "xOffset": -16}, "encoding": {"x": {"field": "d", "type": "ordinal"}, "y": {"field": "v", "type": "quantitative"}}},
 {"transform": [{"filter": "isValid(datum.s)"}], "mark": {"type": "tick", "orient": "vertical", "size": 7, "thickness": 1.3, "color": "black", "xOffset": 14}, "encoding": {"x": {"field": "d", "type": "ordinal"}, "y": {"field": "v", "type": "quantitative"}}},
 {"transform": [{"filter": "isValid(datum.s)"}], "mark": {"type": "text", "fontSize": 15, "fontWeight": "bold", "dy": 2.5, "baseline": "alphabetic", "xOffset": -1, "color": "black"}, "encoding": {"x": {"field": "d", "type": "ordinal"}, "y": {"field": "v", "type": "quantitative"}, "text": {"field": "s"}}}
]},
{"width": 257, "height": 169, "title": {"text": "f", "offset": -3}, "transform": [{"filter": "datum.p==='f'"}], "layer": [
 {"transform": [{"filter": "isValid(datum.g)"}], "mark": {"type": "point", "shape": "circle", "filled": true, "size": 62, "stroke": "black", "strokeWidth": 1.2, "opacity": 1},
  "encoding": {"x": {"field": "d", "type": "ordinal", "scale": {"type": "point", "domain": [2, 3, 4, 5], "padding": 0.425, "align": 0.573, "round": false}, "axis": {"title": "Day post inoculation", "labelOverlap": false}},
   "xOffset": {"field": "dx", "type": "quantitative", "scale": {"domain": [-1, 1], "range": [-66.75, 66.75]}},
   "y": {"field": "v", "type": "quantitative", "scale": {"domain": [0, 10000]}, "axis": {"values": [0, 2000, 4000, 6000, 8000, 10000], "tickCount": 6, "format": "d", "labelOverlap": false, "title": "pDC MHC II (MFI)"}},
   "fill": {"field": "g", "type": "nominal", "scale": {"domain": ["o", "f"], "range": ["white", "black"]}, "legend": null}}},
 {"transform": [{"filter": "datum.g==='o'"}], "mark": {"type": "tick", "orient": "horizontal", "size": 20, "thickness": 1.3, "color": "black", "xOffset": -16}, "encoding": {"x": {"field": "d", "type": "ordinal"}, "y": {"aggregate": "mean", "field": "v", "type": "quantitative"}}},
 {"transform": [{"filter": "datum.g==='f'"}], "mark": {"type": "tick", "orient": "horizontal", "size": 20, "thickness": 1.3, "color": "black", "xOffset": 14}, "encoding": {"x": {"field": "d", "type": "ordinal"}, "y": {"aggregate": "mean", "field": "v", "type": "quantitative"}}},
 {"transform": [{"filter": "isValid(datum.s)"}], "mark": {"type": "rule", "color": "black", "strokeWidth": 1.3, "xOffset": -16, "x2Offset": 14}, "encoding": {"x": {"field": "d", "type": "ordinal"}, "x2": {"field": "d"}, "y": {"field": "v", "type": "quantitative"}}},
 {"transform": [{"filter": "isValid(datum.s)"}], "mark": {"type": "tick", "orient": "vertical", "size": 7, "thickness": 1.3, "color": "black", "xOffset": -16}, "encoding": {"x": {"field": "d", "type": "ordinal"}, "y": {"field": "v", "type": "quantitative"}}},
 {"transform": [{"filter": "isValid(datum.s)"}], "mark": {"type": "tick", "orient": "vertical", "size": 7, "thickness": 1.3, "color": "black", "xOffset": 14}, "encoding": {"x": {"field": "d", "type": "ordinal"}, "y": {"field": "v", "type": "quantitative"}}},
 {"transform": [{"filter": "isValid(datum.s)"}], "mark": {"type": "text", "fontSize": 15, "fontWeight": "bold", "dy": 2.5, "baseline": "alphabetic", "xOffset": -1, "color": "black"}, "encoding": {"x": {"field": "d", "type": "ordinal"}, "y": {"field": "v", "type": "quantitative"}, "text": {"field": "s"}}}
]},
{"width": 257, "height": 169, "title": {"text": "g", "offset": -6}, "transform": [{"filter": "datum.p==='g'"}], "layer": [
 {"transform": [{"filter": "isValid(datum.g)"}], "mark": {"type": "point", "shape": "circle", "filled": true, "size": 62, "stroke": "black", "strokeWidth": 1.2, "opacity": 1},
  "encoding": {"x": {"field": "d", "type": "ordinal", "scale": {"type": "point", "domain": [2, 3, 4, 5], "padding": 0.425, "align": 0.573, "round": false}, "axis": {"title": "Day post inoculation", "labelOverlap": false}},
   "xOffset": {"field": "dx", "type": "quantitative", "scale": {"domain": [-1, 1], "range": [-66.75, 66.75]}},
   "y": {"field": "v", "type": "quantitative", "scale": {"domain": [0, 12000]}, "axis": {"values": [0, 2000, 4000, 6000, 8000, 10000, 12000], "tickCount": 7, "format": "d", "labelOverlap": false, "title": "cDC MHC I (MFI)"}},
   "fill": {"field": "g", "type": "nominal", "scale": {"domain": ["o", "f"], "range": ["white", "black"]}, "legend": null}}},
 {"transform": [{"filter": "datum.g==='o'"}], "mark": {"type": "tick", "orient": "horizontal", "size": 20, "thickness": 1.3, "color": "black", "xOffset": -16}, "encoding": {"x": {"field": "d", "type": "ordinal"}, "y": {"aggregate": "mean", "field": "v", "type": "quantitative"}}},
 {"transform": [{"filter": "datum.g==='f'"}], "mark": {"type": "tick", "orient": "horizontal", "size": 20, "thickness": 1.3, "color": "black", "xOffset": 14}, "encoding": {"x": {"field": "d", "type": "ordinal"}, "y": {"aggregate": "mean", "field": "v", "type": "quantitative"}}},
 {"transform": [{"filter": "isValid(datum.s)"}], "mark": {"type": "rule", "color": "black", "strokeWidth": 1.3, "xOffset": -16, "x2Offset": 14}, "encoding": {"x": {"field": "d", "type": "ordinal"}, "x2": {"field": "d"}, "y": {"field": "v", "type": "quantitative"}}},
 {"transform": [{"filter": "isValid(datum.s)"}], "mark": {"type": "tick", "orient": "vertical", "size": 7, "thickness": 1.3, "color": "black", "xOffset": -16}, "encoding": {"x": {"field": "d", "type": "ordinal"}, "y": {"field": "v", "type": "quantitative"}}},
 {"transform": [{"filter": "isValid(datum.s)"}], "mark": {"type": "tick", "orient": "vertical", "size": 7, "thickness": 1.3, "color": "black", "xOffset": 14}, "encoding": {"x": {"field": "d", "type": "ordinal"}, "y": {"field": "v", "type": "quantitative"}}},
 {"transform": [{"filter": "isValid(datum.s)"}], "mark": {"type": "text", "fontSize": 15, "fontWeight": "bold", "dy": 2.5, "baseline": "alphabetic", "xOffset": -1, "color": "black"}, "encoding": {"x": {"field": "d", "type": "ordinal"}, "y": {"field": "v", "type": "quantitative"}, "text": {"field": "s"}}}
]},
{"width": 257, "height": 169, "title": {"text": "h", "offset": -6}, "transform": [{"filter": "datum.p==='h'"}], "layer": [
 {"transform": [{"filter": "isValid(datum.g)"}], "mark": {"type": "point", "shape": "circle", "filled": true, "size": 62, "stroke": "black", "strokeWidth": 1.2, "opacity": 1},
  "encoding": {"x": {"field": "d", "type": "ordinal", "scale": {"type": "point", "domain": [2, 3, 4, 5], "padding": 0.425, "align": 0.573, "round": false}, "axis": {"title": "Day post inoculation", "labelOverlap": false}},
   "xOffset": {"field": "dx", "type": "quantitative", "scale": {"domain": [-1, 1], "range": [-66.75, 66.75]}},
   "y": {"field": "v", "type": "quantitative", "scale": {"domain": [0, 10000]}, "axis": {"values": [0, 2000, 4000, 6000, 8000, 10000], "tickCount": 6, "format": "d", "labelOverlap": false, "title": "cDC MHC II (MFI)"}},
   "fill": {"field": "g", "type": "nominal", "scale": {"domain": ["o", "f"], "range": ["white", "black"]}, "legend": null}}},
 {"transform": [{"filter": "datum.g==='o'"}], "mark": {"type": "tick", "orient": "horizontal", "size": 20, "thickness": 1.3, "color": "black", "xOffset": -16}, "encoding": {"x": {"field": "d", "type": "ordinal"}, "y": {"aggregate": "mean", "field": "v", "type": "quantitative"}}},
 {"transform": [{"filter": "datum.g==='f'"}], "mark": {"type": "tick", "orient": "horizontal", "size": 20, "thickness": 1.3, "color": "black", "xOffset": 14}, "encoding": {"x": {"field": "d", "type": "ordinal"}, "y": {"aggregate": "mean", "field": "v", "type": "quantitative"}}},
 {"transform": [{"filter": "isValid(datum.s)"}], "mark": {"type": "rule", "color": "black", "strokeWidth": 1.3, "xOffset": -16, "x2Offset": 14}, "encoding": {"x": {"field": "d", "type": "ordinal"}, "x2": {"field": "d"}, "y": {"field": "v", "type": "quantitative"}}},
 {"transform": [{"filter": "isValid(datum.s)"}], "mark": {"type": "tick", "orient": "vertical", "size": 7, "thickness": 1.3, "color": "black", "xOffset": -16}, "encoding": {"x": {"field": "d", "type": "ordinal"}, "y": {"field": "v", "type": "quantitative"}}},
 {"transform": [{"filter": "isValid(datum.s)"}], "mark": {"type": "tick", "orient": "vertical", "size": 7, "thickness": 1.3, "color": "black", "xOffset": 14}, "encoding": {"x": {"field": "d", "type": "ordinal"}, "y": {"field": "v", "type": "quantitative"}}},
 {"transform": [{"filter": "isValid(datum.s)"}], "mark": {"type": "text", "fontSize": 15, "fontWeight": "bold", "dy": 2.5, "baseline": "alphabetic", "xOffset": -1, "color": "black"}, "encoding": {"x": {"field": "d", "type": "ordinal"}, "y": {"field": "v", "type": "quantitative"}, "text": {"field": "s"}}}
]}
]
}
